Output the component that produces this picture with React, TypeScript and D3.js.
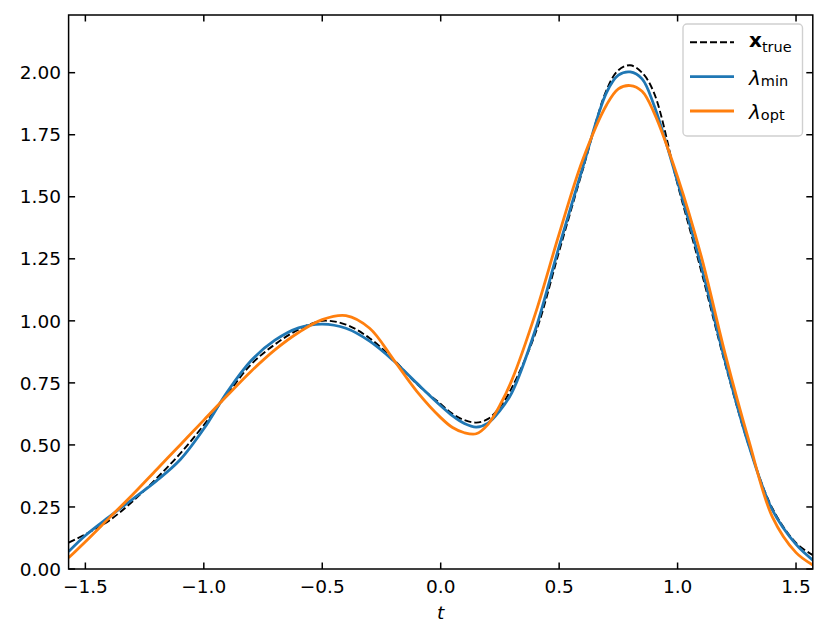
import React from "react";
import * as d3 from "d3";

const T = [-1.5708, -1.5, -1.4, -1.3, -1.2, -1.1, -1.0, -0.9, -0.8, -0.7, -0.6, -0.5, -0.4, -0.3, -0.2, -0.1, 0.0, 0.05, 0.1, 0.15, 0.2, 0.25, 0.3, 0.4, 0.5, 0.6, 0.7, 0.75, 0.8, 0.85, 0.9, 1.0, 1.1, 1.2, 1.3, 1.4, 1.5, 1.5708];

const xTrue = [0.106, 0.14, 0.195, 0.273, 0.365, 0.465, 0.58, 0.705, 0.825, 0.905, 0.965, 1.0, 0.985, 0.93, 0.845, 0.745, 0.665, 0.625, 0.6, 0.59, 0.605, 0.652, 0.73, 0.95, 1.28, 1.61, 1.93, 2.01, 2.03, 2.0, 1.92, 1.55, 1.2, 0.83, 0.5, 0.245, 0.105, 0.056];

const lamMin = [0.07, 0.135, 0.21, 0.282, 0.355, 0.44, 0.565, 0.715, 0.84, 0.922, 0.972, 0.987, 0.97, 0.918, 0.84, 0.748, 0.658, 0.617, 0.586, 0.572, 0.588, 0.638, 0.71, 0.965, 1.3, 1.62, 1.92, 1.99, 2.003, 1.975, 1.87, 1.56, 1.22, 0.84, 0.5, 0.238, 0.099, 0.036];

const lamOpt = [0.045, 0.11, 0.205, 0.3, 0.4, 0.5, 0.6, 0.7, 0.797, 0.883, 0.953, 1.005, 1.021, 0.97, 0.845, 0.715, 0.61, 0.57, 0.549, 0.545, 0.583, 0.66, 0.76, 1.03, 1.35, 1.65, 1.87, 1.935, 1.948, 1.925, 1.84, 1.58, 1.26, 0.87, 0.52, 0.21, 0.066, 0.016];

const xTicks = [-1.5, -1.0, -0.5, 0.0, 0.5, 1.0, 1.5];
const yTicks = [0, 0.25, 0.5, 0.75, 1.0, 1.25, 1.5, 1.75, 2.0];

const W = 827, H = 640;
const L = 68.6, R = 812.8, TOP = 15, BOT = 569;
const FONT = "DejaVu Sans";

export default function App() {
  const x = d3.scaleLinear().domain([-Math.PI / 2, Math.PI / 2]).range([L, R]);
  const y = d3.scaleLinear().domain([0, 2.2325]).range([BOT, TOP]);
  const line = d3
    .line<[number, number]>()
    .x((d) => x(d[0]))
    .y((d) => y(d[1]))
    .curve(d3.curveCatmullRom.alpha(0.5));
  const mk = (vals: number[]) => line(T.map((t, i) => [t, vals[i]] as [number, number])) || "";
  const fmtX = (v: number) => v.toFixed(1).replace("-", "\u2212");
  const fmtY = (v: number) => v.toFixed(2);
  const tl = 6.5;
  const legX = 683, legY = 24;
  const rows = [42.3, 76.7, 111];
  return (
    <svg width={W} height={H} style={{ position: "absolute", left: 0, top: 0, background: "#fff" }} fontFamily={FONT}>
      <defs>
        <clipPath id="plotclip">
          <rect x={L} y={TOP} width={R - L} height={BOT - TOP} />
        </clipPath>
      </defs>
      <rect x={0} y={0} width={W} height={H} fill="#fff" />
      <g clipPath="url(#plotclip)" fill="none">
        <path d={mk(xTrue)} stroke="#000" strokeWidth={1.9} strokeDasharray="7,3" />
        <path d={mk(lamMin)} stroke="#1f77b4" strokeWidth={2.8} strokeLinejoin="round" />
        <path d={mk(lamOpt)} stroke="#ff7f0e" strokeWidth={2.8} strokeLinejoin="round" />
      </g>
      <g stroke="#000" strokeWidth={1.5}>
        {xTicks.map((t) => (
          <g key={"xt" + t}>
            <line x1={x(t)} x2={x(t)} y1={BOT} y2={BOT - tl} />
            <line x1={x(t)} x2={x(t)} y1={TOP} y2={TOP + tl} />
          </g>
        ))}
        {yTicks.map((v) => (
          <g key={"yt" + v}>
            <line x1={L} x2={L + tl} y1={y(v)} y2={y(v)} />
            <line x1={R} x2={R - tl} y1={y(v)} y2={y(v)} />
          </g>
        ))}
      </g>
      <rect x={L} y={TOP} width={R - L} height={BOT - TOP} fill="none" stroke="#000" strokeWidth={1.5} />
      <g fontSize={18.5} fill="#000">
        {xTicks.map((t) => (
          <text key={"xl" + t} x={x(t)} y={593.3} textAnchor="middle">
            {fmtX(t)}
          </text>
        ))}
        {yTicks.map((v) => (
          <text key={"yl" + v} x={61} y={y(v)} dy="0.36em" textAnchor="end">
            {fmtY(v)}
          </text>
        ))}
        <text x={(L + R) / 2} y={619} textAnchor="middle" fontStyle="italic">
          t
        </text>
      </g>
      <rect x={legX} y={legY} width={119.5} height={112} rx={4} fill="#fff" fillOpacity={0.8} stroke="#d0d0d0" strokeWidth={1.4} />
      <line x1={690} x2={734} y1={rows[0]} y2={rows[0]} stroke="#000" strokeWidth={1.9} strokeDasharray="7,3" />
      <line x1={690} x2={734} y1={rows[1]} y2={rows[1]} stroke="#1f77b4" strokeWidth={2.8} />
      <line x1={690} x2={734} y1={rows[2]} y2={rows[2]} stroke="#ff7f0e" strokeWidth={2.8} />
      <g fill="#000">
        <text x={749} y={rows[0] + 5} fontSize={20}>
          <tspan fontWeight="bold">x</tspan>
          <tspan fontSize={14.5} dy={4.4}>true</tspan>
        </text>
        <text x={749} y={rows[1] + 8} fontSize={20}>
          <tspan fontStyle="italic">λ</tspan>
          <tspan fontSize={14.5} dy={1}>min</tspan>
        </text>
        <text x={749} y={rows[2] + 8} fontSize={20}>
          <tspan fontStyle="italic">λ</tspan>
          <tspan fontSize={14.5} dy={1}>opt</tspan>
        </text>
      </g>
    </svg>
  );
}
